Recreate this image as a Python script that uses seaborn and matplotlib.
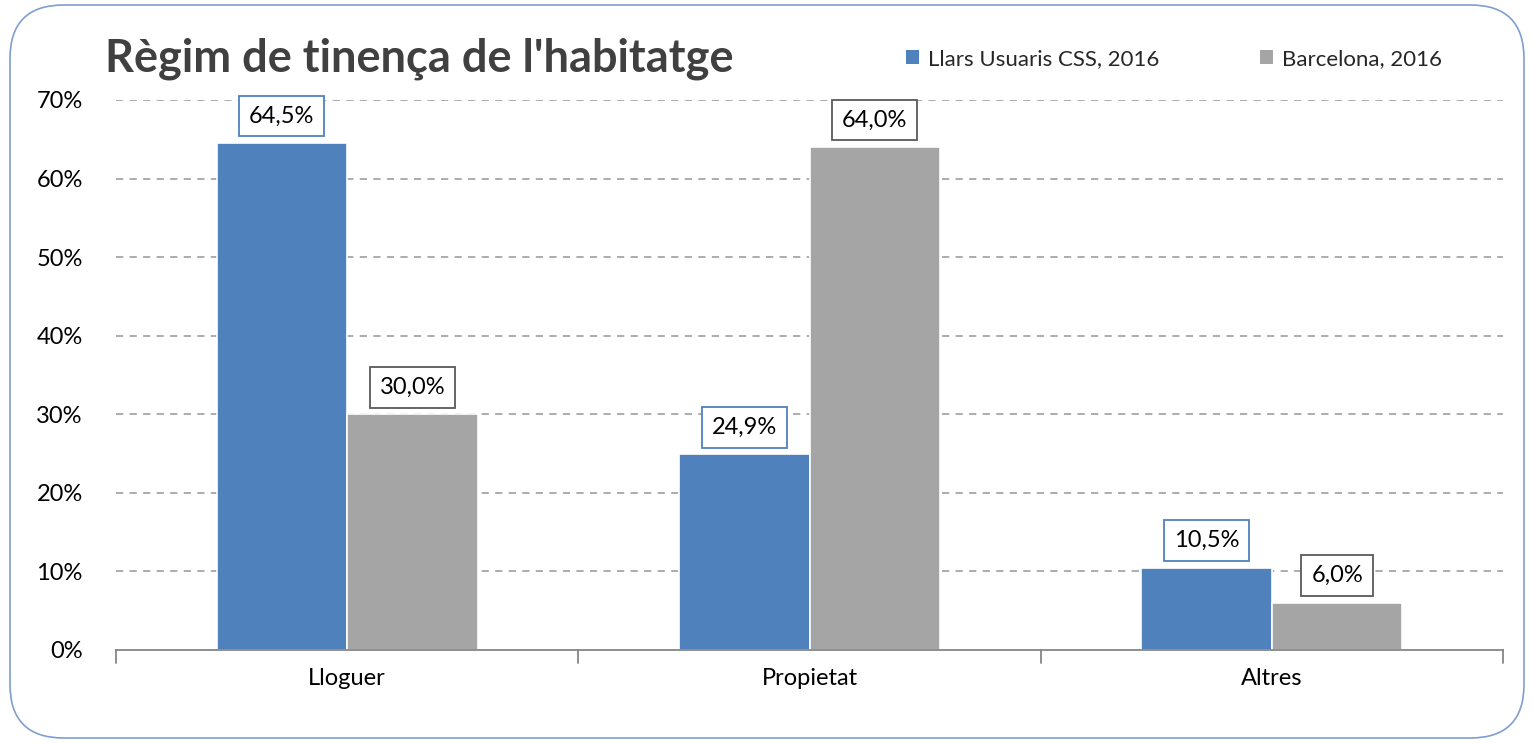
import pandas as pd
import matplotlib.pyplot as plt
import seaborn as sns
from matplotlib.patches import FancyBboxPatch, Patch
from matplotlib.ticker import FuncFormatter

# data
categories = ["Lloguer", "Propietat", "Altres"]
series_names = ["Llars Usuaris CSS, 2016", "Barcelona, 2016"]
css_values = [64.5, 24.9, 10.5]
bcn_values = [30.0, 64.0, 6.0]

colors = ["#4F81BD", "#A5A5A5"]
label_edges = ["#4F81BD", "#595959"]

df = pd.DataFrame({
    "Categoria": categories * 2,
    "Serie": [series_names[0]] * 3 + [series_names[1]] * 3,
    "Valor": css_values + bcn_values,
})

sns.set_theme(style="white")
plt.rcParams["font.family"] = ["Lato", "DejaVu Sans"]

fig = plt.figure(figsize=(15.32, 7.43), dpi=100)
ax = fig.add_axes([116 / 1532, 1 - 650 / 743, (1503 - 116) / 1532, 550 / 743])

sns.barplot(data=df, x="Categoria", y="Valor", hue="Serie", order=categories,
            hue_order=series_names, palette=colors, saturation=1, width=0.565,
            gap=0, edgecolor="white", linewidth=1.2, legend=False, ax=ax)

ax.set_ylim(0, 70)
ax.set_xlim(-0.5, 2.5)
ax.set_yticks(range(0, 71, 10))
ax.yaxis.set_major_formatter(FuncFormatter(lambda v, p: f"{v:.0f}%"))
ax.set_xlabel("")
ax.set_ylabel("")
ax.tick_params(axis="y", length=0, labelsize=17, pad=24, colors="black")
ax.tick_params(axis="x", length=0, labelsize=17, pad=13, colors="black")
for y in range(10, 71, 10):
    ax.axhline(y, color="#A6A6A6", lw=1.3, ls=(0, (4, 3.5)), zorder=0)

for side in ["top", "right", "left"]:
    ax.spines[side].set_visible(False)
ax.spines["bottom"].set_color("#868686")
ax.spines["bottom"].set_linewidth(1.3)
# category separator ticks under the axis
for xb in [-0.5, 0.5, 1.5, 2.5]:
    ax.plot([xb, xb], [0, -1.6], color="#868686", lw=1.3, clip_on=False)

for cont, edge in zip(ax.containers, label_edges):
    labels = [f"{v:.1f}%".replace(".", ",") for v in cont.datavalues]
    ax.bar_label(cont, labels=labels, padding=12, fontsize=17, color="black",
                 bbox=dict(boxstyle="square,pad=0.42", facecolor="white",
                           edgecolor=edge, linewidth=1.3))

fig.text(105 / 1532, 1 - 72 / 743, "Règim de tinença de l'habitatge",
         fontsize=32.5, fontweight="bold", color="#404040", ha="left", va="baseline")

handles = [Patch(facecolor=c, edgecolor="none") for c in colors]
fig.legend(handles, series_names, loc="center left",
           bbox_to_anchor=(886 / 1532, 1 - 59 / 743), ncol=2, frameon=False,
           fontsize=16, handlelength=0.6, handleheight=0.6, handletextpad=0.4,
           columnspacing=4.5)

frame = FancyBboxPatch((10 / 1532, 5 / 743), 1514 / 1532, 733 / 743,
                       boxstyle="round,pad=0,rounding_size=0.035",
                       transform=fig.transFigure, facecolor="none",
                       edgecolor="#7F9FCF", linewidth=1.2, mutation_aspect=1532 / 743)
fig.patches.append(frame)

fig.savefig("out.png", dpi=100, facecolor="white")
